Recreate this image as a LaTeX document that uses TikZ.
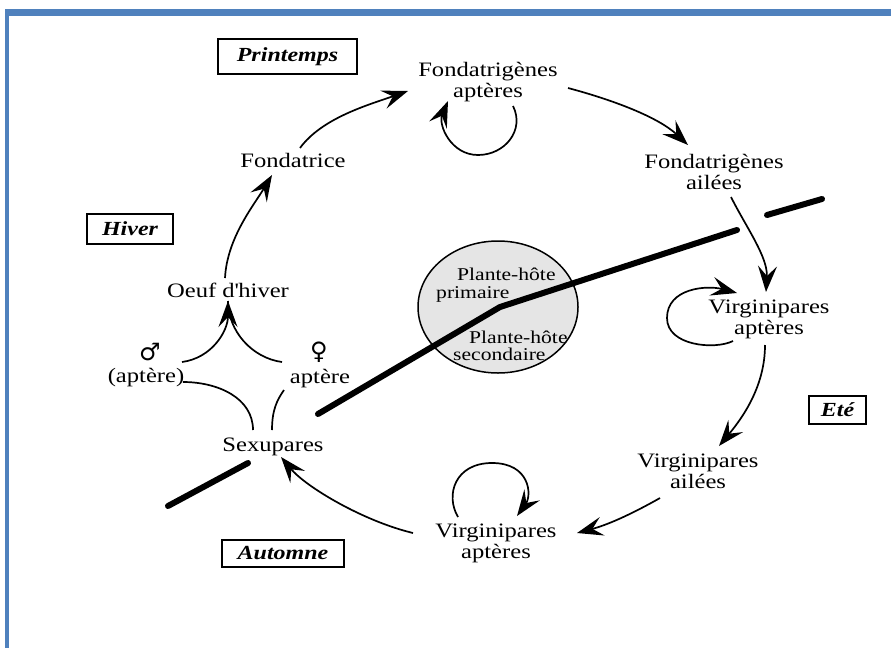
\documentclass[tikz,border=0pt]{standalone}
\usepackage{fontspec}
\setmainfont{Liberation Serif}[FakeStretch=1.2]
\newfontfamily\gendersym{DejaVu Sans Bold}
\usetikzlibrary{arrows.meta,shapes.geometric}
\definecolor{frameblue}{RGB}{79,129,189}
\definecolor{hostgray}{RGB}{229,229,229}
\begin{document}
\begin{tikzpicture}[x=1pt,y=-1pt,
  lbl/.style={align=center,inner sep=0pt,font=\fontsize{20.5}{21}\selectfont},
  hostlbl/.style={anchor=base west,inner sep=0pt,font=\fontsize{18}{18}\selectfont},
  season/.style={draw,line width=1.8pt,inner sep=0pt,font=\fontsize{20}{22}\selectfont\bfseries\itshape},
  gsym/.style={inner sep=0pt,font=\gendersym\fontsize{24}{24}\selectfont},
  cyc/.style={line width=1.7pt,-{Stealth[length=26pt,width=19pt,inset=10pt]}},
  plainc/.style={line width=1.7pt},
  limit/.style={line width=6pt,line cap=round}]
\useasboundingbox (0,0) rectangle (891,648);
% frame
\fill[frameblue] (5,9) rectangle (891,16);
\fill[frameblue] (5,9) rectangle (9,648);
% host plant
\node[draw,line width=1.5pt,fill=hostgray,ellipse,minimum width=160pt,minimum height=132pt,inner sep=0pt] (host) at (498,307) {};
\draw[limit] (318,414) -- (500,307) -- (737,230);
\draw[limit] (767,215) -- (822,199);
\draw[limit] (168,506) -- (248,463);
\node[hostlbl] (hp1) at (457,280) {Plante-hôte};
\node[hostlbl] (hp2) at (436,298) {primaire};
\node[hostlbl] (hs1) at (469,343) {Plante-hôte};
\node[hostlbl] (hs2) at (453,360) {secondaire};
% seasons
\node[season,minimum width=139pt,minimum height=35pt] (spr) at (287.5,56.5) {Printemps};
\node[season,minimum width=86pt,minimum height=30pt] (win) at (130,229) {Hiver};
\node[season,minimum width=57pt,minimum height=28pt] (sum) at (837.5,410) {Eté};
\node[season,minimum width=122pt,minimum height=27pt] (aut) at (283,553.5) {Automne};
% stages
\node[lbl] (fa) at (488,82.5) {Fondatrigènes\\aptères};
\node[lbl,anchor=base] (ftr) at (293,167) {Fondatrice};
\node[lbl] (fai) at (714,172) {Fondatrigènes\\ailées};
\node[lbl] (vapr) at (769,319) {Virginipares\\aptères};
\node[lbl] (vai) at (698,471) {Virginipares\\ailées};
\node[lbl] (vapb) at (496,543) {Virginipares\\aptères};
\node[lbl,anchor=base] (sex) at (273,451) {Sexupares};
\node[lbl,anchor=base] (oeuf) at (228,297) {Oeuf d\textquotesingle hiver};
\node[lbl,anchor=base] (mapt) at (146,382) {(aptère)};
\node[lbl,anchor=base] (fapt) at (320,383) {aptère};
\node[gsym] (male) at (150,352) {♂};
\node[gsym] (female) at (319,352) {♀};
% cycle
\draw[cyc] ([shift={(7,-19)}]ftr.base) .. controls +(22,-30) and +(-40,14) .. ([shift={(-80,8.5)}]fa.center);
\draw[cyc] ([shift={(80,5.5)}]fa.center) .. controls +(45,12) and +(-30,-28) .. ([shift={(-26,-27)}]fai.center);
\draw[cyc] ([shift={(17,25)}]fai.center) .. controls +(15,30) and +(2,-35) .. ([shift={(-3,-27)}]vapr.center);
\draw[cyc] ([shift={(-4,26)}]vapr.center) .. controls +(0,40) and +(25,-30) .. ([shift={(21,-25)}]vai.center);
\draw[cyc] ([shift={(-38,27)}]vai.center) .. controls +(-30,17) and +(30,-8) .. ([shift={(81,-10)}]vapb.center);
\draw[cyc] ([shift={(-83,-10)}]vapb.center) .. controls +(-50,-12) and +(25,30) .. ([shift={(8,6)}]sex.base);
\draw[cyc] ([shift={(-3,-19)}]oeuf.base) .. controls +(2,-40) and +(-18,30) .. ([shift={(-21,8)}]ftr.base);
% self loops
\draw[cyc] ([shift={(25,23.5)}]fa.center) .. controls +(12,24) and +(27,0) .. ([shift={(-10,72.5)}]fa.center) .. controls +(-27,0) and +(-10,24) .. ([shift={(-40,18.5)}]fa.center);
\draw[cyc] ([shift={(-36,22)}]vapr.center) .. controls +(-18,9) and +(0,28) .. ([shift={(-102,-1)}]vapr.center) .. controls +(0,-30) and +(-30,-8) .. ([shift={(-32,-26)}]vapr.center);
\draw[cyc] ([shift={(-38,-26)}]vapb.center) .. controls +(-13,-22) and +(-37,0) .. ([shift={(-4,-80)}]vapb.center) .. controls +(38,0) and +(15,-21) .. ([shift={(21,-27)}]vapb.center);
% sexual phase
\draw[plainc] ([shift={(-20,-21)}]sex.base) .. controls +(0,-32) and +(35,0) .. ([shift={(37,0)}]mapt.base);
\draw[plainc] ([shift={(-1,-21)}]sex.base) .. controls +(0,-20) and +(-7,10) .. ([shift={(-36,7)}]fapt.base);
\draw[plainc] ([shift={(-37,10)}]female.center) .. controls +(-30,-4) and +(0,30) .. ([shift={(0,4)}]oeuf.base);
\draw[cyc] ([shift={(32,10)}]male.center) .. controls +(30,-4) and +(0,30) .. ([shift={(0,4)}]oeuf.base);
\end{tikzpicture}
\end{document}
